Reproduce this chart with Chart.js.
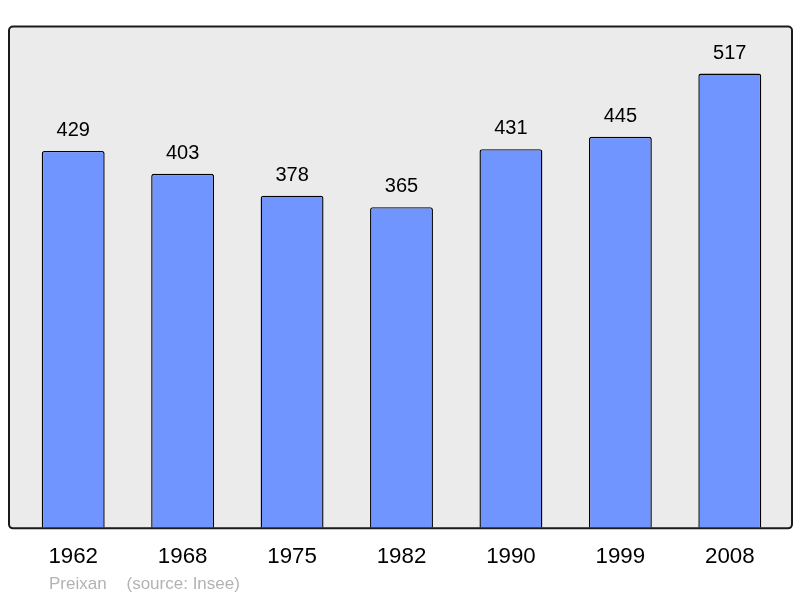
<!DOCTYPE html>
<html><head><meta charset="utf-8">
<script src="https://cdn.jsdelivr.net/npm/chart.js@4/dist/chart.umd.min.js"></script>
<style>html,body{margin:0;padding:0;background:#fff}#wrap{position:relative;width:800px;height:598px}</style>
</head><body>
<div id="wrap"><canvas id="c" width="800" height="598"></canvas></div>
<script>
const years = ["1962","1968","1975","1982","1990","1999","2008"];
const population = [429,403,378,365,431,445,517];
const footerName = "Preixan";
const footerSource = "(source: Insee)";

const boxPlugin = {
  id: 'box',
  beforeDraw(chart) {
    const {ctx, chartArea: a} = chart;
    const x = a.left - 9.5, y = a.top - 0.5, w = (a.right + 7.5) - x, h = (a.bottom + 0.5) - y;
    ctx.save();
    ctx.beginPath();
    ctx.roundRect(x, y, w, h, 4);
    ctx.fillStyle = '#ebebeb';
    ctx.fill();
    ctx.restore();
  },
  afterDatasetsDraw(chart) {
    const {ctx, chartArea: a} = chart;
    const x = a.left - 9.5, y = a.top - 0.5, w = (a.right + 7.5) - x, h = (a.bottom + 0.5) - y;
    ctx.save();
    ctx.beginPath();
    ctx.roundRect(x, y, w, h, 4);
    ctx.lineWidth = 2;
    ctx.strokeStyle = '#1a1a1a';
    ctx.stroke();
    // value labels
    ctx.fillStyle = '#000';
    ctx.font = '20px "Liberation Sans", Arial, sans-serif';
    ctx.textAlign = 'center';
    ctx.textBaseline = 'alphabetic';
    const meta = chart.getDatasetMeta(0);
    meta.data.forEach((bar, i) => {
      ctx.fillText(String(chart.data.datasets[0].data[i]), bar.x, bar.y - 15);
    });
    // footer
    ctx.fillStyle = '#b3b3b3';
    ctx.font = '17px "Liberation Sans", Arial, sans-serif';
    ctx.textAlign = 'left';
    ctx.fillText(footerName, 49, 589);
    ctx.fillText(footerSource, 126.5, 589);
    ctx.restore();
  }
};

new Chart(document.getElementById('c'), {
  type: 'bar',
  data: {
    labels: years,
    datasets: [{
      data: population,
      backgroundColor: '#7095ff',
      borderColor: '#000',
      borderWidth: 1.4,
      borderSkipped: 'bottom',
      borderRadius: {topLeft: 2.5, topRight: 2.5, bottomLeft: 0, bottomRight: 0},
      barPercentage: 0.575,
      categoryPercentage: 1
    }]
  },
  options: {
    responsive: false,
    animation: false,
    devicePixelRatio: 1,
    layout: {padding: {left: 18.5, right: 15.5, top: 27, bottom: 11.4}},
    plugins: {legend: {display: false}, tooltip: {enabled: false}},
    scales: {
      x: {
        grid: {display: false, drawTicks: false},
        border: {display: false},
        ticks: {color: '#000', padding: 16, font: {size: 22.3, family: '"Liberation Sans", Arial, sans-serif'}}
      },
      y: {
        display: false,
        min: 0, max: 570
      }
    }
  },
  plugins: [boxPlugin]
});
</script>
</body></html>
